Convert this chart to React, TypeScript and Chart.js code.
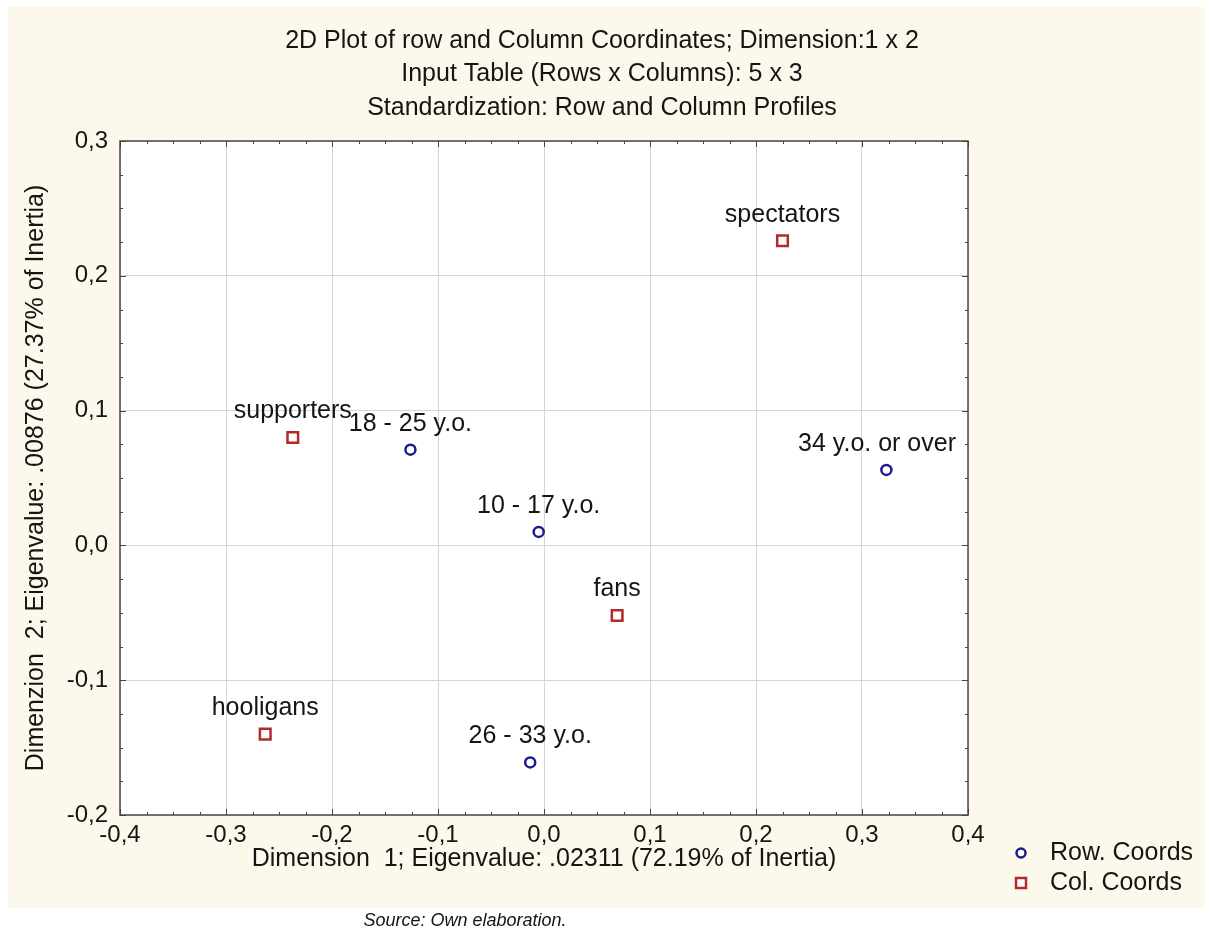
import React, { useEffect, useRef } from "react";
import { Chart, registerables } from "chart.js";

Chart.register(...registerables);

// ---- data ----
const titleLines = [
  "2D Plot of row and Column Coordinates; Dimension:1 x 2",
  "Input Table (Rows x Columns): 5 x 3",
  "Standardization: Row and Column Profiles",
];
const xAxisTitle = "Dimension  1; Eigenvalue: .02311 (72.19% of Inertia)";
const yAxisTitle = "Dimenzion  2; Eigenvalue: .00876 (27.37% of Inertia)";
const seriesNames = ["Row. Coords", "Col. Coords"];

const rowLabels = ["10 - 17 y.o.", "18 - 25 y.o.", "26 - 33 y.o.", "34 y.o. or over"];
const rowDim1 = [-0.005, -0.126, -0.013, 0.323];
const rowDim2 = [0.010, 0.071, -0.161, 0.056];

const colLabels = ["hooligans", "supporters", "fans", "spectators"];
const colDim1 = [-0.263, -0.237, 0.069, 0.225];
const colDim2 = [-0.140, 0.080, -0.052, 0.226];

const xTicks = [-0.4, -0.3, -0.2, -0.1, 0.0, 0.1, 0.2, 0.3, 0.4];
const yTicks = [-0.2, -0.1, 0.0, 0.1, 0.2, 0.3];
const sourceNote = "Source: Own elaboration.";

// ---- styles ----
const FONT = "'Liberation Sans', Arial, Helvetica, sans-serif";
const CREAM = "#fcf8ec";
const ROW_COLOR = "#1c1c8c";
const COL_COLOR = "#b32a2a";
const TEXT = "#151515";
const pointLabels = [rowLabels, colLabels];

const fmt = (v: number) => {
  const x = Math.abs(v) < 1e-9 ? 0 : v;
  return x.toFixed(1).replace(".", ",");
};

const decorPlugin = {
  id: "decor",
  beforeDraw(chart: any) {
    const { ctx, chartArea: a, width, height } = chart;
    ctx.save();
    ctx.fillStyle = "#ffffff";
    ctx.fillRect(0, 0, width, height);
    ctx.fillStyle = CREAM;
    ctx.fillRect(8, 7, width - 8, 901);
    ctx.fillStyle = "#ffffff";
    ctx.fillRect(a.left, a.top, a.right - a.left, a.bottom - a.top);
    // title lines, centred on the page
    ctx.font = `25px ${FONT}`;
    ctx.fillStyle = TEXT;
    ctx.textAlign = "center";
    ctx.textBaseline = "middle";
    titleLines.forEach((line, i) => {
      ctx.fillText(line, 602, 41 + i * 33.5);
    });
    ctx.restore();
  },
  afterDatasetsDraw(chart: any) {
    const { ctx, chartArea: a } = chart;
    ctx.save();
    ctx.font = `25px ${FONT}`;
    ctx.fillStyle = TEXT;
    ctx.textAlign = "center";
    ctx.textBaseline = "middle";
    chart.data.datasets.forEach((_ds: any, i: number) => {
      const meta = chart.getDatasetMeta(i);
      meta.data.forEach((el: any, j: number) => {
        const label = pointLabels[i][j];
        const w = ctx.measureText(label).width;
        let x = el.x;
        if (x + w / 2 > a.right - 12) x = a.right - 12 - w / 2;
        if (x - w / 2 < a.left + 12) x = a.left + 12 + w / 2;
        ctx.fillText(label, x, el.y - 26);
      });
    });
    ctx.restore();
  },
  afterDraw(chart: any) {
    const { ctx, chartArea: a, scales } = chart;
    const xs = scales.x;
    const ys = scales.y;
    ctx.save();
    // frame
    ctx.strokeStyle = "#4a4a4a";
    ctx.lineWidth = 1.5;
    ctx.strokeRect(a.left, a.top, a.right - a.left, a.bottom - a.top);
    // inner ticks (major + minor)
    ctx.lineWidth = 1;
    ctx.strokeStyle = "#444";
    ctx.beginPath();
    for (let k = 0; k <= 32; k++) {
      const v = xs.min + (k * (xs.max - xs.min)) / 32;
      const px = Math.round(xs.getPixelForValue(v)) + 0.5;
      const len = k % 4 === 0 ? 6 : 3;
      ctx.moveTo(px, a.bottom);
      ctx.lineTo(px, a.bottom - len);
      ctx.moveTo(px, a.top);
      ctx.lineTo(px, a.top + len);
    }
    for (let k = 0; k <= 20; k++) {
      const v = ys.min + (k * (ys.max - ys.min)) / 20;
      const py = Math.round(ys.getPixelForValue(v)) + 0.5;
      const len = k % 4 === 0 ? 6 : 3;
      ctx.moveTo(a.left, py);
      ctx.lineTo(a.left + len, py);
      ctx.moveTo(a.right, py);
      ctx.lineTo(a.right - len, py);
    }
    ctx.stroke();
    // legend
    ctx.font = `25px ${FONT}`;
    ctx.textAlign = "left";
    ctx.textBaseline = "middle";
    chart.data.datasets.forEach((ds: any, i: number) => {
      const cy = 853 + i * 30;
      const cx = 1021;
      ctx.strokeStyle = ds.borderColor;
      ctx.lineWidth = 2.5;
      ctx.fillStyle = "#ffffff";
      ctx.beginPath();
      if (ds.pointStyle === "circle") {
        ctx.arc(cx, cy, 4.5, 0, Math.PI * 2);
      } else {
        ctx.rect(cx - 5, cy - 5, 10, 10);
      }
      ctx.fill();
      ctx.stroke();
      ctx.fillStyle = TEXT;
      ctx.fillText(ds.label, 1050, cy);
    });
    ctx.restore();
  },
};

export default function App() {
  const canvasRef = useRef<HTMLCanvasElement | null>(null);

  useEffect(() => {
    const canvas = canvasRef.current;
    if (!canvas) return;
    const chart = new Chart(canvas, {
      type: "scatter",
      data: {
        datasets: [
          {
            label: seriesNames[0],
            data: rowDim1.map((x, i) => ({ x, y: rowDim2[i] })),
            pointStyle: "circle",
            radius: 5,
            borderWidth: 2.5,
            borderColor: ROW_COLOR,
            backgroundColor: "#ffffff",
          },
          {
            label: seriesNames[1],
            data: colDim1.map((x, i) => ({ x, y: colDim2[i] })),
            pointStyle: "rect",
            radius: 7.5,
            borderWidth: 2.5,
            borderColor: COL_COLOR,
            backgroundColor: "#ffffff",
          },
        ],
      },
      options: {
        responsive: false,
        animation: false,
        events: [],
        layout: { padding: { top: 141, left: 0, right: 237, bottom: 0 } },
        plugins: {
          legend: { display: false },
          tooltip: { enabled: false },
          title: { display: false },
        },
        scales: {
          x: {
            type: "linear",
            min: -0.4,
            max: 0.4,
            afterBuildTicks: (s: any) => {
              s.ticks = xTicks.map((value) => ({ value }));
            },
            afterFit: (s: any) => {
              s.height = 119;
            },
            grid: { color: "#d6d6d6", lineWidth: 1, drawTicks: false },
            border: { display: false },
            ticks: {
              color: TEXT,
              padding: 6,
              maxRotation: 0,
              font: { family: FONT, size: 24 },
              callback: (v: any) => fmt(Number(v)),
            },
            title: {
              display: true,
              text: xAxisTitle,
              color: TEXT,
              font: { family: FONT, size: 25, lineHeight: 1.2 },
              padding: { top: 0, bottom: 60 },
            },
          },
          y: {
            type: "linear",
            min: -0.2,
            max: 0.3,
            afterBuildTicks: (s: any) => {
              s.ticks = yTicks.map((value) => ({ value }));
            },
            afterFit: (s: any) => {
              s.width = 120;
            },
            grid: { color: "#d6d6d6", lineWidth: 1, drawTicks: false },
            border: { display: false },
            ticks: {
              color: TEXT,
              padding: 12,
              font: { family: FONT, size: 24 },
              callback: (v: any) => fmt(Number(v)),
            },
            title: {
              display: true,
              text: yAxisTitle,
              color: TEXT,
              font: { family: FONT, size: 25, lineHeight: 1.2 },
              padding: { top: 21, bottom: 0 },
            },
          },
        },
      },
      plugins: [decorPlugin],
    } as any);
    return () => chart.destroy();
  }, []);

  return (
    <div style={{ position: "fixed", left: 0, top: 0, width: 1205, height: 934, overflow: "hidden", background: "#ffffff" }}>
      <canvas ref={canvasRef} width={1205} height={934} style={{ display: "block", width: 1205, height: 934 }} />
      <div
        style={{
          position: "absolute",
          left: 0,
          top: 909,
          width: 930,
          textAlign: "center",
          fontFamily: FONT,
          fontStyle: "italic",
          fontSize: 18,
          lineHeight: "22px",
          color: TEXT,
        }}
      >
        {sourceNote}
      </div>
    </div>
  );
}
